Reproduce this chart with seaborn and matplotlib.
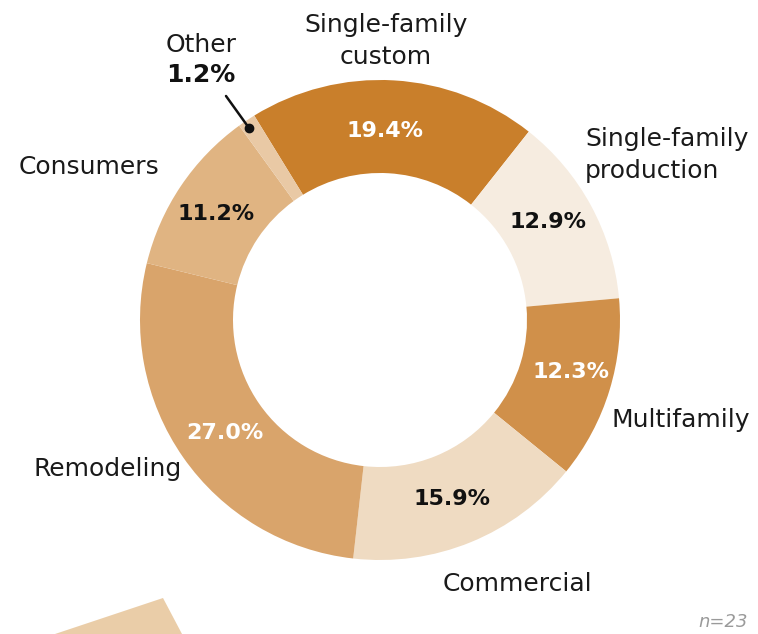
import matplotlib
matplotlib.use("Agg")
import matplotlib.pyplot as plt
from matplotlib.patches import Polygon
import seaborn as sns

sns.set_theme(style="white")
plt.rcParams["font.family"] = ["DejaVu Sans"]

# Share of respondents by segment, clockwise from the top
segments = ["Single-family custom", "Single-family production", "Multifamily",
            "Commercial", "Remodeling", "Consumers", "Other"]
shares = [19.4, 12.9, 12.3, 15.9, 27.0, 11.2, 1.2]
palette = ["#C97F2B", "#F6ECE0", "#D0904A", "#EFDBC2", "#D9A46B", "#E0B482", "#E9C9A5"]
pct_text_colors = ["white", "#111111", "white", "#111111", "white", "#111111", "#111111"]
sample_note = "n=23"

W, H = 758, 634
fig = plt.figure(figsize=(W / 100, H / 100), dpi=100)
ax = fig.add_axes([0, 0, 1, 1])
ax.set_xlim(0, W)
ax.set_ylim(0, H)
ax.axis("off")

cx, cy = 380, H - 320
R = 240
ring = 93

wedges, _ = ax.pie(shares, colors=palette, startangle=121.6, counterclock=False,
                   center=(cx, cy), radius=R,
                   wedgeprops=dict(width=ring, linewidth=0))
ax.set_xlim(0, W)
ax.set_ylim(0, H)
ax.set_aspect("equal")

def y(py):
    return H - py

label_kw = dict(fontsize=18, color="#1a1a1a")
pct_kw = dict(fontsize=16, fontweight="bold", ha="center", va="center")

# Percentage labels inside the ring
pct_pos = [(385, 131), (548, 222), (571, 372), (452, 499), (225, 433), (216, 214)]
for (px, py), val, col in zip(pct_pos, shares[:6], pct_text_colors[:6]):
    ax.text(px, y(py), f"{val:.1f}%", color=col, **pct_kw)

# Category labels around the ring
ax.text(386, y(41), "Single-family\ncustom", ha="center", va="center",
        linespacing=1.4, **label_kw)
ax.text(585, y(155), "Single-family\nproduction", ha="left", va="center",
        linespacing=1.4, **label_kw)
ax.text(612, y(420), "Multifamily", ha="left", va="center", **label_kw)
ax.text(517, y(584), "Commercial", ha="center", va="center", **label_kw)
ax.text(33, y(469), "Remodeling", ha="left", va="center", **label_kw)
ax.text(19, y(167), "Consumers", ha="left", va="center", **label_kw)

# Callout for the small "Other" slice
ax.text(201, y(45), "Other", ha="center", va="center", **label_kw)
ax.text(201, y(75), f"{shares[6]:.1f}%", ha="center", va="center",
        fontsize=18, fontweight="bold", color="#111111")
ax.plot([226, 249], [y(96), y(128)], color="#111111", lw=1.8)
ax.plot([249], [y(128)], marker="o", ms=6, color="#111111")

# Decorative band in the lower-left corner
ax.add_patch(Polygon([(55, y(634)), (163, y(598)), (182, y(634))],
                     closed=True, facecolor="#EACDA8", edgecolor="none",
                     clip_on=False))

ax.text(748, y(622), sample_note, ha="right", va="center", fontsize=13,
        style="italic", color="#9a9a9a")

fig.savefig("out.png", dpi=100)
